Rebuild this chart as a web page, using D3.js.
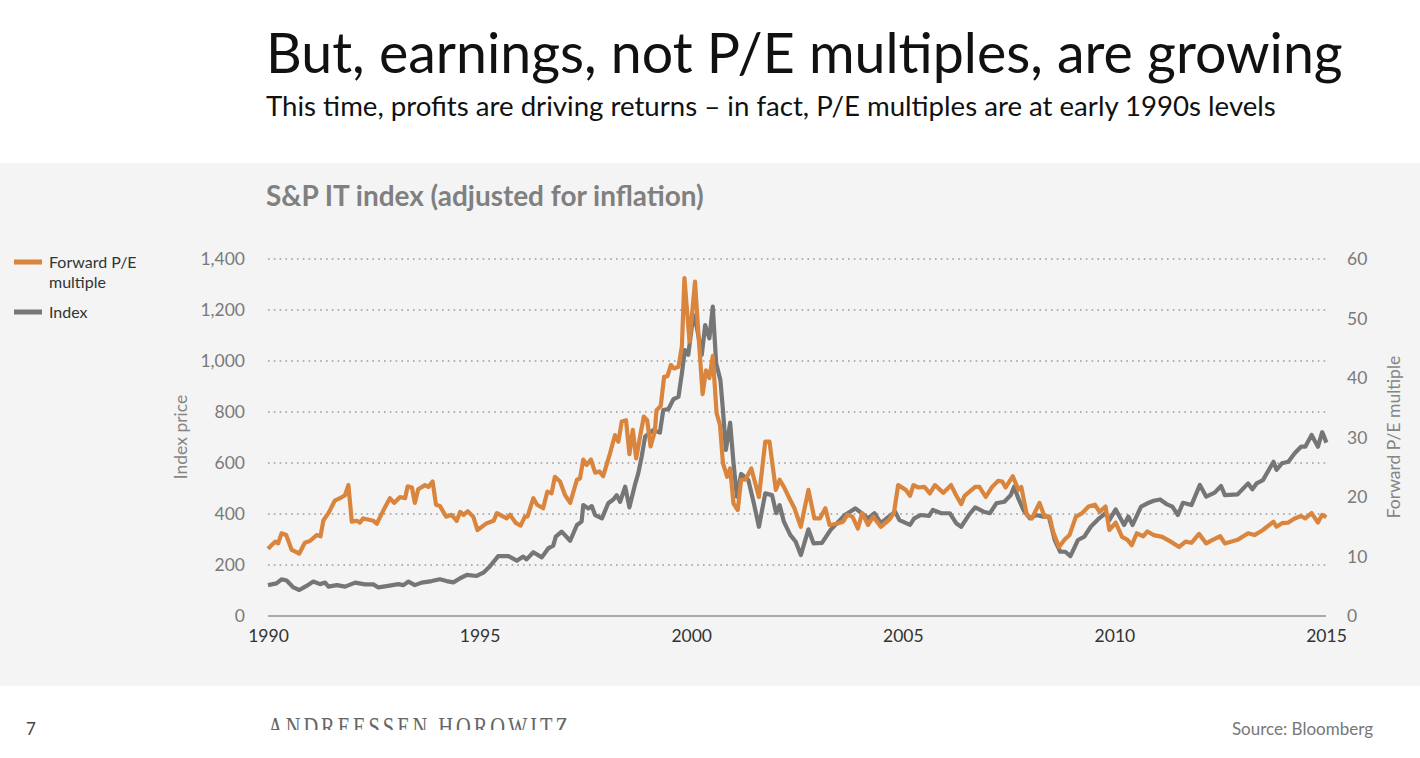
<!DOCTYPE html>
<html>
<head>
<meta charset="utf-8">
<script src="https://cdn.jsdelivr.net/npm/d3@7"></script>
<style>
  body { margin: 0; background: #fff; }
  svg { display: block; font-family: Lato, "Open Sans", sans-serif; }
</style>
</head>
<body>
<svg></svg>
<script>
const w = 1420;
const h = 758;

// data (decimal years)
const indexDates = [1990.0, 1990.2, 1990.32, 1990.44, 1990.6, 1990.74, 1990.91, 1991.07, 1991.23, 1991.35, 1991.43, 1991.63, 1991.82, 1992.06, 1992.29, 1992.49, 1992.61, 1992.84, 1993.08, 1993.2, 1993.32, 1993.47, 1993.63, 1993.87, 1994.06, 1994.22, 1994.38, 1994.54, 1994.7, 1994.93, 1995.09, 1995.25, 1995.44, 1995.68, 1995.88, 1996.03, 1996.11, 1996.27, 1996.47, 1996.62, 1996.74, 1996.8, 1996.94, 1997.14, 1997.3, 1997.41, 1997.45, 1997.57, 1997.65, 1997.73, 1997.89, 1998.04, 1998.16, 1998.24, 1998.32, 1998.44, 1998.54, 1998.67, 1998.75, 1998.83, 1998.91, 1999.1, 1999.26, 1999.34, 1999.46, 1999.58, 1999.7, 1999.78, 1999.85, 1999.93, 2000.05, 2000.13, 2000.25, 2000.33, 2000.43, 2000.51, 2000.59, 2000.69, 2000.75, 2000.82, 2000.92, 2001.0, 2001.08, 2001.18, 2001.35, 2001.48, 2001.6, 2001.75, 2001.91, 2002.01, 2002.09, 2002.19, 2002.34, 2002.47, 2002.59, 2002.77, 2002.89, 2003.09, 2003.29, 2003.48, 2003.63, 2003.88, 2004.03, 2004.18, 2004.33, 2004.48, 2004.67, 2004.82, 2004.92, 2005.17, 2005.27, 2005.42, 2005.62, 2005.71, 2005.91, 2006.11, 2006.26, 2006.38, 2006.56, 2006.71, 2006.91, 2007.06, 2007.21, 2007.4, 2007.55, 2007.63, 2007.73, 2007.85, 2008.0, 2008.15, 2008.3, 2008.45, 2008.59, 2008.72, 2008.84, 2008.96, 2009.14, 2009.29, 2009.44, 2009.64, 2009.79, 2009.88, 2010.03, 2010.23, 2010.33, 2010.43, 2010.63, 2010.78, 2010.93, 2011.08, 2011.23, 2011.37, 2011.5, 2011.62, 2011.82, 2012.02, 2012.17, 2012.37, 2012.52, 2012.61, 2012.91, 2013.16, 2013.26, 2013.36, 2013.51, 2013.76, 2013.83, 2013.96, 2014.11, 2014.26, 2014.41, 2014.51, 2014.66, 2014.81, 2014.91, 2015.01];
const indexValues = [121, 128, 144, 139, 112, 102, 118, 135, 125, 131, 115, 121, 115, 131, 124, 124, 112, 118, 125, 121, 135, 121, 131, 137, 144, 137, 132, 148, 161, 157, 170, 196, 235, 235, 217, 233, 222, 250, 230, 265, 276, 311, 331, 295, 357, 370, 435, 422, 431, 396, 383, 442, 457, 474, 448, 507, 426, 514, 560, 625, 703, 729, 719, 808, 811, 850, 860, 952, 1043, 1024, 1180, 1135, 1024, 1141, 1089, 1213, 991, 925, 808, 651, 758, 599, 468, 557, 533, 442, 350, 481, 474, 403, 435, 370, 318, 291, 239, 340, 285, 287, 337, 370, 396, 422, 403, 383, 403, 364, 390, 409, 376, 357, 383, 396, 393, 416, 403, 403, 364, 350, 396, 426, 409, 403, 442, 448, 474, 507, 461, 416, 383, 396, 390, 390, 298, 252, 252, 235, 298, 311, 350, 383, 403, 376, 418, 357, 390, 357, 429, 442, 452, 457, 439, 429, 396, 444, 435, 514, 468, 484, 510, 474, 477, 520, 497, 520, 533, 605, 573, 599, 605, 638, 664, 664, 710, 664, 721, 680];

const peDates = [1990.0, 1990.17, 1990.24, 1990.32, 1990.43, 1990.56, 1990.74, 1990.87, 1990.99, 1991.15, 1991.24, 1991.31, 1991.43, 1991.58, 1991.7, 1991.82, 1991.9, 1991.98, 1992.1, 1992.17, 1992.25, 1992.49, 1992.57, 1992.73, 1992.88, 1992.98, 1993.12, 1993.24, 1993.3, 1993.4, 1993.47, 1993.55, 1993.71, 1993.79, 1993.89, 1993.97, 1994.06, 1994.21, 1994.34, 1994.46, 1994.54, 1994.62, 1994.72, 1994.85, 1994.95, 1995.17, 1995.33, 1995.41, 1995.64, 1995.72, 1995.86, 1995.97, 1996.07, 1996.13, 1996.27, 1996.36, 1996.5, 1996.6, 1996.7, 1996.78, 1996.9, 1997.02, 1997.14, 1997.3, 1997.37, 1997.45, 1997.53, 1997.63, 1997.73, 1997.83, 1997.92, 1998.08, 1998.2, 1998.28, 1998.36, 1998.46, 1998.54, 1998.62, 1998.7, 1998.79, 1998.88, 1998.96, 1999.04, 1999.14, 1999.18, 1999.28, 1999.36, 1999.44, 1999.52, 1999.59, 1999.7, 1999.78, 1999.84, 1999.96, 2000.09, 2000.17, 2000.27, 2000.35, 2000.43, 2000.51, 2000.6, 2000.68, 2000.75, 2000.85, 2000.92, 2001.0, 2001.1, 2001.18, 2001.28, 2001.42, 2001.6, 2001.75, 2001.85, 2002.0, 2002.09, 2002.19, 2002.34, 2002.44, 2002.59, 2002.77, 2002.91, 2003.04, 2003.17, 2003.27, 2003.44, 2003.59, 2003.69, 2003.81, 2003.94, 2004.04, 2004.18, 2004.3, 2004.48, 2004.67, 2004.79, 2004.89, 2005.07, 2005.17, 2005.25, 2005.37, 2005.51, 2005.64, 2005.76, 2005.96, 2006.14, 2006.26, 2006.38, 2006.46, 2006.71, 2006.81, 2006.96, 2007.11, 2007.25, 2007.35, 2007.43, 2007.6, 2007.73, 2007.8, 2007.93, 2008.05, 2008.23, 2008.35, 2008.47, 2008.55, 2008.69, 2008.82, 2008.94, 2009.09, 2009.24, 2009.39, 2009.54, 2009.65, 2009.79, 2009.88, 2010.03, 2010.18, 2010.31, 2010.41, 2010.53, 2010.68, 2010.78, 2010.93, 2011.13, 2011.33, 2011.53, 2011.68, 2011.82, 2012.0, 2012.17, 2012.32, 2012.5, 2012.61, 2012.91, 2013.16, 2013.31, 2013.51, 2013.76, 2013.83, 2013.96, 2014.11, 2014.26, 2014.41, 2014.51, 2014.66, 2014.81, 2014.91, 2015.01];
const peValues = [11.3, 12.5, 12.2, 13.9, 13.6, 11.1, 10.5, 12.3, 12.6, 13.6, 13.4, 16.1, 17.3, 19.4, 19.8, 20.3, 22.0, 15.85, 16.0, 15.7, 16.4, 16.0, 15.5, 17.8, 19.8, 19.0, 20.0, 19.8, 21.8, 21.6, 19.0, 21.3, 22.0, 21.7, 22.6, 18.7, 18.5, 16.7, 17.0, 16.0, 17.5, 17.0, 17.6, 16.7, 14.45, 15.6, 16.0, 17.3, 16.4, 17.0, 15.6, 15.2, 16.7, 16.7, 19.8, 18.7, 18.1, 20.9, 20.6, 23.4, 22.6, 20.3, 19.0, 22.9, 23.1, 26.3, 25.4, 26.3, 24.1, 24.3, 23.5, 27.3, 30.4, 29.3, 32.7, 32.9, 27.2, 31.3, 26.5, 30.1, 33.5, 32.9, 28.5, 31.0, 34.6, 35.3, 40.2, 40.3, 42.2, 41.6, 41.9, 45.3, 56.8, 46.1, 56.2, 47.5, 37.3, 41.3, 40.0, 43.7, 34.1, 32.1, 25.7, 23.4, 24.8, 18.9, 17.8, 22.9, 22.9, 24.8, 20.0, 29.3, 29.3, 21.2, 22.9, 21.7, 19.5, 18.1, 15.0, 21.2, 16.4, 16.4, 18.1, 15.3, 15.5, 15.85, 17.0, 16.7, 14.7, 17.3, 15.3, 16.7, 15.0, 16.1, 17.3, 22.0, 21.2, 20.2, 22.0, 21.6, 21.7, 20.6, 22.0, 20.7, 22.0, 20.3, 18.8, 20.2, 21.7, 21.7, 20.0, 21.7, 22.7, 22.6, 21.6, 23.5, 21.2, 21.7, 17.0, 16.4, 19.0, 16.7, 16.7, 14.2, 11.6, 12.8, 13.6, 16.7, 17.3, 18.4, 18.7, 17.5, 18.4, 14.45, 15.7, 13.3, 12.8, 11.9, 13.9, 13.4, 14.2, 13.6, 13.3, 12.5, 11.6, 12.5, 12.3, 13.8, 12.2, 12.8, 13.4, 12.2, 12.8, 13.9, 13.6, 14.45, 15.85, 15.0, 15.6, 15.7, 16.4, 16.8, 16.4, 17.3, 15.7, 17.0, 16.6];

const leftTicks = [0, 200, 400, 600, 800, 1000, 1200, 1400];
const rightTicks = [0, 10, 20, 30, 40, 50, 60];
const yearTicks = [1990, 1995, 2000, 2005, 2010, 2015];

const orange = '#d9853d';
const grey = '#767676';

const svg = d3.select('svg').attr('width', w).attr('height', h);

// fit a text element to a given width by changing its font size
const fitText = (sel, width) => {
  const len = sel.node().getComputedTextLength();
  const fs = parseFloat(sel.attr('font-size'));
  sel.attr('font-size', fs * width / len);
  return sel;
};

// background panel
svg.append('rect').attr('x', 0).attr('y', 163).attr('width', w).attr('height', 523).attr('fill', '#f4f4f4');

// headings
fitText(svg.append('text').attr('x', 266).attr('y', 73).attr('font-size', 50)
  .attr('fill', '#111')
  .text('But, earnings, not P/E multiples, are growing'), 1077);
fitText(svg.append('text').attr('x', 266).attr('y', 116).attr('font-size', 24)
  .attr('fill', '#111')
  .text('This time, profits are driving returns \u2013 in fact, P/E multiples are at early 1990s levels'), 1010);
fitText(svg.append('text').attr('x', 266).attr('y', 206).attr('font-size', 24)
  .attr('fill', '#808080').attr('font-weight', 'bold')
  .text('S&P IT index (adjusted for inflation)'), 438);

const x = d3.scaleLinear().domain([1990, 2015]).range([268, 1326]);
const yLeft = d3.scaleLinear().domain([0, 1400]).range([616, 259]);
const yRight = d3.scaleLinear().domain([0, 60]).range([616, 259]);

// dotted grid
svg.append('g').selectAll('line').data(leftTicks.filter(d => d > 0)).enter().append('line')
  .attr('x1', x(1990)).attr('x2', x(2015))
  .attr('y1', d => yLeft(d)).attr('y2', d => yLeft(d))
  .attr('stroke', '#9a9a9a').attr('stroke-width', 1.6)
  .attr('stroke-dasharray', '1.6,4.2');

// baseline
svg.append('line').attr('x1', x(1990)).attr('x2', x(2015))
  .attr('y1', yLeft(0)).attr('y2', yLeft(0))
  .attr('stroke', '#aaa').attr('stroke-width', 2);

// axes
const leftAxis = d3.axisLeft(yLeft).tickValues(leftTicks).tickSize(0).tickPadding(0)
  .tickFormat(d3.format(','));
const gL = svg.append('g').attr('transform', 'translate(245,0)').call(leftAxis);
const rightAxis = d3.axisRight(yRight).tickValues(rightTicks).tickSize(0).tickPadding(0);
const gR = svg.append('g').attr('transform', 'translate(1347,0)').call(rightAxis);
const bottomAxis = d3.axisBottom(x).tickValues(yearTicks).tickSize(0).tickPadding(0)
  .tickFormat(d3.format('d'));
const gB = svg.append('g').attr('transform', 'translate(0,630)').call(bottomAxis);

[gL, gR, gB].forEach(g => {
  g.select('.domain').remove();
  g.selectAll('text').attr('font-family', 'Lato, sans-serif').attr('font-size', 17.5);
});
gL.selectAll('text').attr('fill', '#7a7a7a');
gR.selectAll('text').attr('fill', '#7a7a7a');
gB.selectAll('text').attr('fill', '#333');

// axis titles
svg.append('text').attr('transform', 'translate(187,437) rotate(-90)')
  .attr('text-anchor', 'middle').attr('font-size', 17.5).attr('fill', '#858585')
  .text('Index price');
svg.append('text').attr('transform', 'translate(1400,437) rotate(-90)')
  .attr('text-anchor', 'middle').attr('font-size', 17.5).attr('fill', '#858585')
  .text('Forward P/E multiple');

// lines
const indexLine = d3.line().x(d => x(d[0])).y(d => yLeft(d[1]));
const peLine = d3.line().x(d => x(d[0])).y(d => yRight(d[1]));

svg.append('path').datum(d3.zip(indexDates, indexValues))
  .attr('d', indexLine).attr('fill', 'none').attr('stroke', grey)
  .attr('stroke-width', 4.2).attr('stroke-linejoin', 'round');
svg.append('path').datum(d3.zip(peDates, peValues))
  .attr('d', peLine).attr('fill', 'none').attr('stroke', orange)
  .attr('stroke-width', 4.2).attr('stroke-linejoin', 'round');

// legend
const legend = [
  { label: ['Forward P/E', 'multiple'], color: orange, y: 262 },
  { label: ['Index'], color: grey, y: 312 }
];
legend.forEach(l => {
  svg.append('line').attr('x1', 14).attr('x2', 42).attr('y1', l.y).attr('y2', l.y)
    .attr('stroke', l.color).attr('stroke-width', 5);
  l.label.forEach((t, i) => {
    svg.append('text').attr('x', 49).attr('y', l.y + 6 + i * 20)
      .attr('font-size', 16).attr('fill', '#333').text(t);
  });
});

// footer
svg.append('text').attr('x', 26).attr('y', 735).attr('font-size', 17).attr('fill', '#444').text('7');
svg.append('text').attr('x', 1373).attr('y', 735).attr('text-anchor', 'end')
  .attr('font-size', 17).attr('fill', '#777').text('Source: Bloomberg');

// wordmark, cut off at the bottom as in the slide
svg.append('clipPath').attr('id', 'clipLogo')
  .append('rect').attr('x', 260).attr('y', 700).attr('width', 330).attr('height', 30);
const logoG = svg.append('g').attr('clip-path', 'url(#clipLogo)');
const logo = logoG.append('text').attr('x', 268).attr('y', 736)
  .attr('font-family', '"Liberation Serif", serif').attr('font-size', 28)
  .attr('letter-spacing', 4).attr('fill', '#666')
  .text('ANDREESSEN HOROWITZ');
const logoLen = logo.node().getComputedTextLength();
logo.attr('transform', `translate(268,0) scale(${303 / logoLen},1) translate(-268,0)`);
</script>
</body>
</html>
